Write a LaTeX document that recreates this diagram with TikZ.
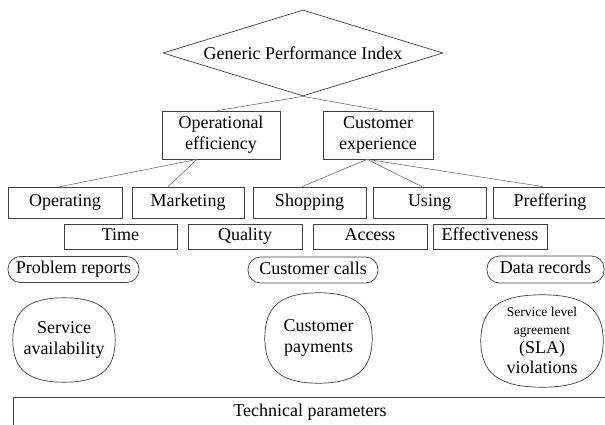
\documentclass[tikz,border=0pt]{standalone}
\usepackage{fontspec}
\setmainfont{Liberation Serif}
\usetikzlibrary{shapes.geometric,calc}
\newcommand\squircle[2][0.7]{%
  \draw[draw=black!75, line width=0.7pt]
    (#2.north) .. controls ($(#2.north)!#1!(#2.north east)$) and ($(#2.east)!#1!(#2.north east)$) .. (#2.east)
    .. controls ($(#2.east)!#1!(#2.south east)$) and ($(#2.south)!#1!(#2.south east)$) .. (#2.south)
    .. controls ($(#2.south)!#1!(#2.south west)$) and ($(#2.west)!#1!(#2.south west)$) .. (#2.west)
    .. controls ($(#2.west)!#1!(#2.north west)$) and ($(#2.north)!#1!(#2.north west)$) .. (#2.north) -- cycle;}
\begin{document}
\begin{tikzpicture}[x=1pt,y=-1pt,
  every node/.style={font=\rmfamily\fontsize{18}{21}\selectfont, inner sep=0pt, text=black},
  one/.style={text height=12.5pt, text depth=4pt},
  box/.style={one, draw=black!75, line width=0.7pt, rectangle, minimum height=31pt},
  sbox/.style={one, draw=black!75, line width=0.7pt, rectangle, minimum height=25pt, minimum width=114pt},
  pill/.style={one, draw=black!75, line width=0.7pt, rectangle, rounded corners=12.5pt, minimum height=26pt},
  blob/.style={rectangle, align=center},
  link/.style={draw=black!55, line width=0.6pt}]
\useasboundingbox (0,0) rectangle (605,425);
\fill[white] (0,0) rectangle (605,425);

% top
\node[diamond, draw=black!75, line width=0.7pt, aspect=3.26, minimum width=280pt, minimum height=86pt] (gpi) at (303,53) {Generic Performance Index};
\node[draw=black!75, line width=0.7pt, rectangle, minimum width=118pt, minimum height=48pt, align=center] (op) at (221,135) {Operational\\efficiency};
\node[draw=black!75, line width=0.7pt, rectangle, minimum width=110pt, minimum height=48pt, align=center] (ce) at (378,135) {Customer\\experience};

% row 2
\node[box, minimum width=114pt] (operating) at (65,202.5) {Operating};
\node[box, minimum width=112pt] (marketing) at (188,202.5) {Marketing};
\node[box, minimum width=113pt] (shopping) at (309.5,202.5) {Shopping};
\node[box, minimum width=113pt] (using) at (429.5,202.5) {Using};
\node[box, minimum width=114pt] (preffering) at (550,202.5) {Preffering};

% row 3
\node[sbox, minimum width=113pt] (time) at (120.5,236.5) {Time};
\node[sbox] (quality) at (245,236.5) {Quality};
\node[sbox] (access) at (370,236.5) {Access};
\node[sbox] (effect) at (490,236.5) {Effectiveness};

% pills
\node[pill, minimum width=131pt] (prob) at (73.5,269.5) {Problem reports};
\node[pill, minimum width=130pt] (calls) at (313,270) {Customer calls};
\node[pill, minimum width=117pt, minimum height=27pt] (data) at (545.5,269.5) {Data records};

% blobs
\node[blob, minimum width=102pt, minimum height=84pt] (avail) at (64,340) {Service\\availability};
\node[blob, minimum width=107pt, minimum height=90pt] (pay) at (318.5,338) {Customer\\payments};
\node[blob, minimum width=122pt, minimum height=92pt] (sla) at (542,341)
  {\begin{tabular}{@{}c@{}}\fontsize{13.5}{15}\selectfont Service level\\[-3pt]
   \fontsize{13.5}{15}\selectfont agreement\\[-2pt] (SLA)\\[-1pt] violations\end{tabular}};
\squircle{avail}
\squircle{pay}
\squircle{sla}

% technical parameters
\node[minimum width=600pt, minimum height=40pt, anchor=north west] (tech) at (13,397) {};
\draw[black!75, line width=0.7pt] (tech.south west) -- (tech.north west) -- (tech.north east);
\node (techtext) at (310,412) {Technical parameters};

% connectors
\draw[link] (gpi.south) -- ([xshift=-4pt]op.north);
\draw[link] (gpi.south) -- ([xshift=4pt]ce.north);
\draw[link] ([xshift=-24pt]op.south) -- ([xshift=-5pt]operating.north);
\draw[link] ([xshift=-24pt]op.south) -- ([xshift=-20pt]marketing.north);
\draw[link] ([xshift=-11pt]ce.south) -- ([xshift=-7.5pt]shopping.north);
\draw[link] ([xshift=-11pt]ce.south) -- ([xshift=-7.5pt]using.north);
\draw[link] ([xshift=-11pt]ce.south) -- ([xshift=-7pt]preffering.north);
\end{tikzpicture}
\end{document}
